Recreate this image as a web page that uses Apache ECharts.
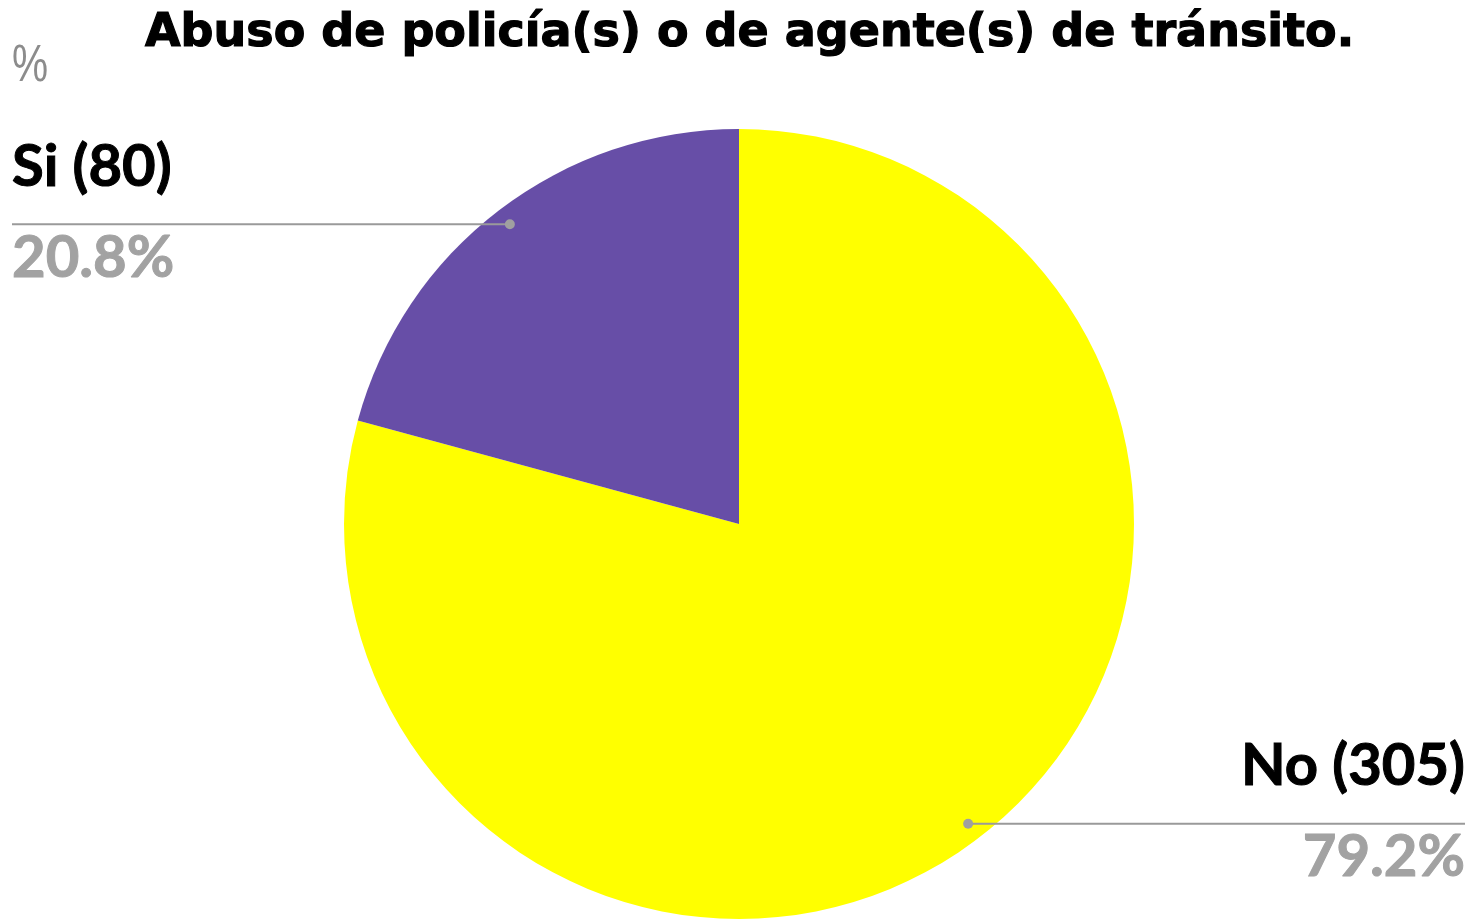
<!DOCTYPE html>
<html>
<head>
<meta charset="utf-8">
<script src="https://cdn.jsdelivr.net/npm/echarts@6/dist/echarts.min.js"></script>
<style>
  html, body { margin: 0; padding: 0; background: #fff; }
  #chart { width: 1471px; height: 923px; }
</style>
</head>
<body>
<div id="chart"></div>
<script>
// Survey answers
const categories = ['No', 'Si'];
const counts = [305, 80];
const sliceColors = ['#ffff00', '#674ea7'];
const titleText = 'Abuso de policía(s) o de agente(s) de tránsito.';
const unitText = '%';

const total = counts.reduce((a, b) => a + b, 0);
const PIE_CENTER = [739, 524];
const PIE_RADIUS = 395;
const DOT_RATIO = 0.955;
const LEFT_EDGE = 12;
const RIGHT_EDGE = 1465;
const GUIDE_COLOR = '#9a9a9a';

const chart = echarts.init(document.getElementById('chart'), null, { renderer: 'canvas' });

// Point on the slice's mid-angle, slightly inside the rim
function sliceAnchor(idx) {
  const lay = chart.getModel().getSeriesByIndex(0).getData().getItemLayout(idx);
  const mid = (lay.startAngle + lay.endAngle) / 2;
  return {
    x: lay.cx + lay.r * DOT_RATIO * Math.cos(mid),
    y: lay.cy + lay.r * DOT_RATIO * Math.sin(mid),
    left: Math.cos(mid) < 0
  };
}

const labelFont = {
  fontFamily: 'Lato, Open Sans, sans-serif',
  fontWeight: 'bold',
  fontSize: 58,
  lineHeight: 91,
  textBorderWidth: 1
};

chart.setOption({
  animation: false,
  backgroundColor: '#ffffff',
  title: {
    text: titleText,
    left: 140,
    top: 6,
    textStyle: {
      fontFamily: 'DejaVu Sans, sans-serif',
      fontWeight: 'bold',
      fontSize: 46,
      color: '#000',
      textBorderColor: '#000',
      textBorderWidth: 1.2
    }
  },
  series: [{
    type: 'pie',
    center: PIE_CENTER,
    radius: PIE_RADIUS,
    startAngle: 90,
    clockwise: true,
    avoidLabelOverlap: false,
    silent: true,
    data: categories.map((name, i) => ({
      name: name,
      value: counts[i],
      itemStyle: { color: sliceColors[i] }
    })),
    label: {
      show: true,
      position: 'outside',
      formatter: (p) => '{name|' + p.name + ' (' + p.value + ')}\n{pct|' + (p.value / total * 100).toFixed(1) + '%}',
      rich: {
        name: Object.assign({ color: '#000000', textBorderColor: '#000000' }, labelFont),
        pct: Object.assign({ color: '#a2a2a2', textBorderColor: '#a2a2a2' }, labelFont)
      }
    },
    labelLine: { show: false },
    labelLayout: function (params) {
      const a = sliceAnchor(params.dataIndex);
      return {
        x: a.left ? LEFT_EDGE : RIGHT_EDGE,
        y: a.y - 12,
        align: a.left ? 'left' : 'right',
        verticalAlign: 'middle'
      };
    }
  }]
});

// Unit mark, leader lines and round markers drawn on top of the slices
const overlay = [{
  type: 'text',
  x: 12,
  y: 67,
  scaleX: 0.78,
  style: {
    text: unitText,
    fontFamily: 'Liberation Sans, sans-serif',
    fontSize: 52,
    fill: '#8c8c8c',
    verticalAlign: 'middle'
  },
  z: 100
}];
categories.forEach((name, i) => {
  const a = sliceAnchor(i);
  const endX = a.left ? LEFT_EDGE : RIGHT_EDGE;
  overlay.push({
    type: 'line',
    shape: { x1: a.x, y1: a.y, x2: endX, y2: a.y },
    style: { stroke: GUIDE_COLOR, lineWidth: 2 },
    z: 100
  });
  overlay.push({
    type: 'circle',
    shape: { cx: a.x, cy: a.y, r: 5 },
    style: { fill: '#a0a0a0' },
    z: 101
  });
});
chart.setOption({ graphic: overlay });
</script>
</body>
</html>
